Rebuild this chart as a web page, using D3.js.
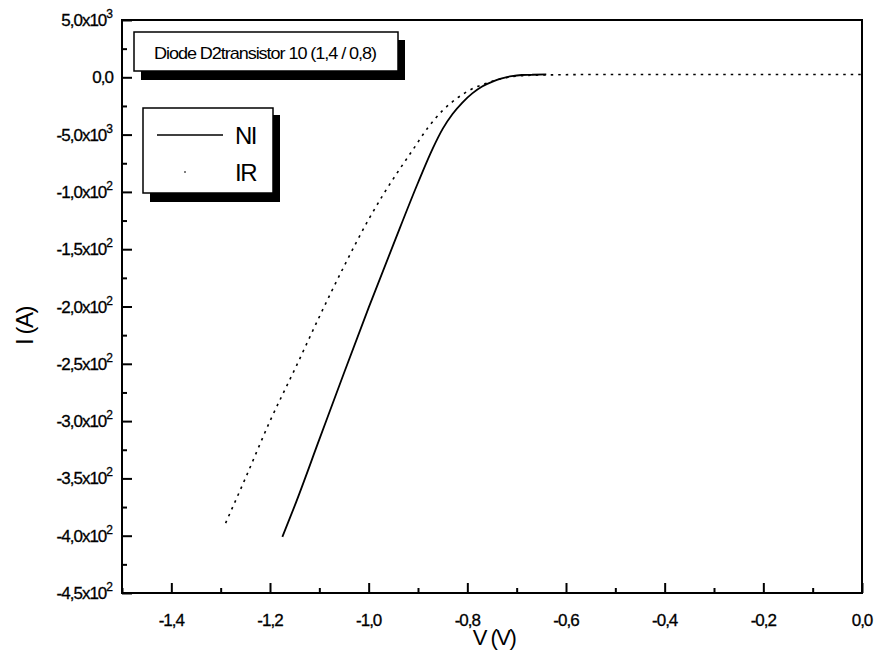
<!DOCTYPE html>
<html><head><meta charset="utf-8">
<script src="https://cdn.jsdelivr.net/npm/d3@7"></script>
<style>
html,body{margin:0;padding:0;background:#fff;}
svg{display:block;font-family:"Liberation Sans",Arial,sans-serif;}
</style></head>
<body><svg id="c" width="880" height="651"></svg>
<script>
// ---- data ----
const niV = [-1.175,-1.15,-1.10,-1.05,-1.00,-0.95,-0.90,-0.87,-0.85,-0.83,-0.81,-0.79,-0.77,-0.75,-0.73,-0.71,-0.69,-0.67,-0.64];
const niI = [-0.0401,-0.0374,-0.0316,-0.0258,-0.0201,-0.0146,-0.0092,-0.0062,-0.0045,-0.0032,-0.0022,-0.0014,-0.0008,-0.0004,-0.0001,0.0001,0.0002,0.00022,0.00025];
const irV = [-1.29,-1.25,-1.20,-1.15,-1.10,-1.05,-1.00,-0.97,-0.94,-0.91,-0.88,-0.85,-0.82,-0.79,-0.76,-0.73,-0.70,-0.65,-0.50,-0.30,-0.10,0.0];
const irI = [-0.0389,-0.0350,-0.0300,-0.0255,-0.0209,-0.0165,-0.0124,-0.0102,-0.0082,-0.0063,-0.0044,-0.0029,-0.0018,-0.0010,-0.0005,-0.0001,0.0001,0.0002,0.00025,0.00025,0.00025,0.00025];
const xTicks = [-1.4,-1.2,-1.0,-0.8,-0.6,-0.4,-0.2,0.0];
const xTickLabels = ["-1,4","-1,2","-1,0","-0,8","-0,6","-0,4","-0,2","0,0"];
const xMinor = [-1.5,-1.3,-1.1,-0.9,-0.7,-0.5,-0.3,-0.1];
const yTicks = [0.005,0,-0.005,-0.010,-0.015,-0.020,-0.025,-0.030,-0.035,-0.040,-0.045];
const yTickMant = ["5,0","0,0","-5,0","-1,0","-1,5","-2,0","-2,5","-3,0","-3,5","-4,0","-4,5"];
const yTickExp = ["3","","3","2","2","2","2","2","2","2","2"];
const yMinor = [0.0025,-0.0025,-0.0075,-0.0125,-0.0175,-0.0225,-0.0275,-0.0325,-0.0375,-0.0425];
const seriesNames = ["NI","IR"];
const titleText = "Diode D2transistor 10 (1,4 / 0,8)";

// ---- layout ----
const L=122, R=862, T=20, B=593;
const svg = d3.select("#c");
const x = d3.scaleLinear().domain([-1.5,0]).range([L,R]);
const y = d3.scaleLinear().domain([-0.045,0.005]).range([B,T]);

// frame
svg.append("rect").attr("x",L).attr("y",T).attr("width",R-L).attr("height",B-T)
  .attr("fill","none").attr("stroke","#000").attr("stroke-width",2);

// axes with inward ticks
const gx = svg.append("g").attr("transform",`translate(0,${B})`)
  .call(d3.axisBottom(x).tickValues(xTicks).tickSize(-10).tickFormat(""));
const gxm = svg.append("g").attr("transform",`translate(0,${B})`)
  .call(d3.axisBottom(x).tickValues(xMinor).tickSize(-5).tickFormat(""));
const gy = svg.append("g").attr("transform",`translate(${L},0)`)
  .call(d3.axisLeft(y).tickValues(yTicks).tickSize(-10).tickFormat(""));
const gym = svg.append("g").attr("transform",`translate(${L},0)`)
  .call(d3.axisLeft(y).tickValues(yMinor).tickSize(-5).tickFormat(""));
[gx,gxm,gy,gym].forEach(g=>{g.select(".domain").remove();g.selectAll("line").attr("stroke","#000").attr("stroke-width",2);});

// x tick labels
svg.append("g").selectAll("text").data(xTicks).join("text")
  .attr("x",d=>x(d)).attr("y",B+33).attr("text-anchor","middle")
  .attr("font-size",17).attr("letter-spacing",-1).attr("stroke","#000").attr("stroke-width",0.3)
  .text((d,i)=>xTickLabels[i]);

// y tick labels
const yl = svg.append("g").selectAll("text").data(yTicks).join("text")
  .attr("x",113).attr("y",d=>y(d)+6).attr("text-anchor","end")
  .attr("font-size",17).attr("letter-spacing",-1).attr("stroke","#000").attr("stroke-width",0.3);
yl.each(function(d,i){
  const t=d3.select(this);
  if(yTickExp[i]===""){ t.text(yTickMant[i]); return; }
  t.append("tspan").text(yTickMant[i]+"x10");
  t.append("tspan").attr("dy",-8).attr("font-size",12).attr("letter-spacing",0).text(yTickExp[i]);
});

// axis titles
svg.append("text").attr("x",494).attr("y",645).attr("text-anchor","middle")
  .attr("font-size",22).attr("letter-spacing",-1.5).text("V (V)");
svg.append("text").attr("transform","translate(33,326) rotate(-90)").attr("text-anchor","middle")
  .attr("font-size",24).attr("letter-spacing",-1.5).text("I (A)");

// curves
const line = d3.line().x(d=>x(d[0])).y(d=>y(d[1])).curve(d3.curveMonotoneX);
svg.append("path").datum(niV.map((v,i)=>[v,niI[i]])).attr("d",line)
  .attr("fill","none").attr("stroke","#000").attr("stroke-width",1.8);
svg.append("path").datum(irV.map((v,i)=>[v,irI[i]])).attr("d",line)
  .attr("fill","none").attr("stroke","#000").attr("stroke-width",1.6).attr("stroke-dasharray","2.5,5");

// title box
svg.append("rect").attr("x",141).attr("y",40).attr("width",264).attr("height",40).attr("fill","#000");
svg.append("rect").attr("x",134).attr("y",32).attr("width",264).attr("height",39)
  .attr("fill","#fff").attr("stroke","#000").attr("stroke-width",1.5);
svg.append("text").attr("x",154).attr("y",59).attr("font-size",17).attr("letter-spacing",-1)
  .attr("textLength",222).attr("lengthAdjust","spacingAndGlyphs").text(titleText);

// legend box
svg.append("rect").attr("x",150).attr("y",115).attr("width",130).attr("height",87).attr("fill","#000");
svg.append("rect").attr("x",143).attr("y",108).attr("width",130).attr("height",85)
  .attr("fill","#fff").attr("stroke","#000").attr("stroke-width",1.5);
svg.append("line").attr("x1",157).attr("x2",223).attr("y1",135).attr("y2",135)
  .attr("stroke","#000").attr("stroke-width",1.3);
svg.append("line").attr("x1",184).attr("x2",186).attr("y1",172).attr("y2",172)
  .attr("stroke","#000").attr("stroke-width",1.2);
svg.append("text").attr("x",235).attr("y",144).attr("font-size",24).attr("letter-spacing",-1.5).text(seriesNames[0]);
svg.append("text").attr("x",235).attr("y",181).attr("font-size",24).attr("letter-spacing",-1.5).text(seriesNames[1]);
</script></body></html>
